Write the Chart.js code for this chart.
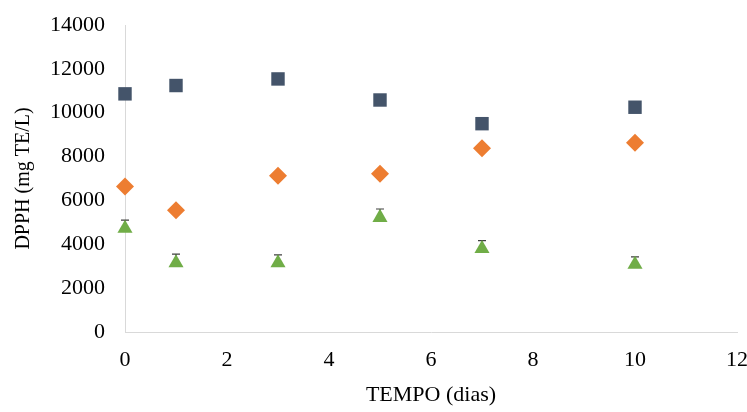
<!DOCTYPE html>
<html>
<head>
<meta charset="utf-8">
<script src="https://cdn.jsdelivr.net/npm/chart.js@4.4.1/dist/chart.umd.min.js"></script>
<style>
  html, body { margin: 0; padding: 0; background: #fff; }
  #wrap { width: 747px; height: 412px; }
</style>
</head>
<body>
<div id="wrap"><canvas id="dpph"></canvas></div>
<script>
// sampling days
const days = [0, 1, 3, 5, 7, 10];

// DPPH values (mg TE/L) per series
const seriesSquare = [10860, 11240, 11540, 10580, 9500, 10250];
const seriesDiamond = [6640, 5550, 7130, 7220, 8380, 8630];
const seriesTriangle = [4720, 3150, 3150, 5220, 3800, 3080];
const errTriangle = [380, 400, 370, 390, 370, 350];

const toPoints = (vals) => vals.map((v, i) => ({ x: days[i], y: v }));

// upper error bars, drawn under the markers so only the cap shows
const errorBars = {
  id: "errorBars",
  beforeDatasetsDraw(chart) {
    const ctx = chart.ctx;
    const xs = chart.scales.x, ys = chart.scales.y;
    chart.data.datasets.forEach((ds) => {
      if (!ds.errors) return;
      ctx.save();
      ctx.strokeStyle = "#404040";
      ctx.lineWidth = 1.2;
      ds.data.forEach((p, i) => {
        const px = xs.getPixelForValue(p.x);
        const mid = ys.getPixelForValue(p.y);
        const top = ys.getPixelForValue(p.y + ds.errors[i]);
        ctx.beginPath();
        ctx.moveTo(px, mid); ctx.lineTo(px, top);
        ctx.moveTo(px - 4, top); ctx.lineTo(px + 4, top);
        ctx.stroke();
      });
      ctx.restore();
    });
  }
};

const serif = "'Liberation Serif', 'Times New Roman', serif";

new Chart(document.getElementById("dpph"), {
  type: "scatter",
  data: {
    datasets: [
      { data: toPoints(seriesSquare), pointStyle: "rect", pointRadius: 9.5, clip: false,
        backgroundColor: "#44546A", borderColor: "#44546A", borderWidth: 0 },
      { data: toPoints(seriesDiamond), pointStyle: "rectRot", pointRadius: 9, clip: false,
        backgroundColor: "#ED7D31", borderColor: "#ED7D31", borderWidth: 0 },
      { data: toPoints(seriesTriangle), pointStyle: "triangle", pointRadius: 8.7, clip: false,
        backgroundColor: "#70AD47", borderColor: "#70AD47", borderWidth: 0,
        errors: errTriangle }
    ]
  },
  options: {
    responsive: true,
    maintainAspectRatio: false,
    animation: false,
    layout: { padding: { top: 25, right: 0, left: 0, bottom: 0 } },
    plugins: { legend: { display: false }, tooltip: { enabled: false } },
    scales: {
      x: {
        type: "linear", min: 0, max: 12,
        ticks: { stepSize: 2, color: "#000", padding: 15, font: { family: serif, size: 22 },
                 callback: (v) => String(v) },
        grid: { color: "transparent", drawTicks: false },
        border: { color: "#D9D9D9", width: 1 },
        title: { display: true, text: "TEMPO (dias)", color: "#000",
                 font: { family: serif, size: 22 }, padding: { top: 10 } },
        afterFit: (s) => { s.height = 80; s.paddingRight = 10; s.paddingLeft = 0; }
      },
      y: {
        min: 0, max: 14000,
        ticks: { stepSize: 2000, color: "#000", padding: 20, font: { family: serif, size: 22 },
                 callback: (v) => String(v) },
        grid: { color: "transparent", drawTicks: false },
        border: { color: "#D9D9D9", width: 1 },
        title: { display: true, text: "DPPH (mg TE/L)", color: "#000",
                 font: { family: serif, size: 20 }, padding: { bottom: 0, top: 12 } },
        afterFit: (s) => { s.width = 125; s.paddingTop = 0; s.paddingBottom = 0; }
      }
    }
  },
  plugins: [errorBars]
});
</script>
</body>
</html>
